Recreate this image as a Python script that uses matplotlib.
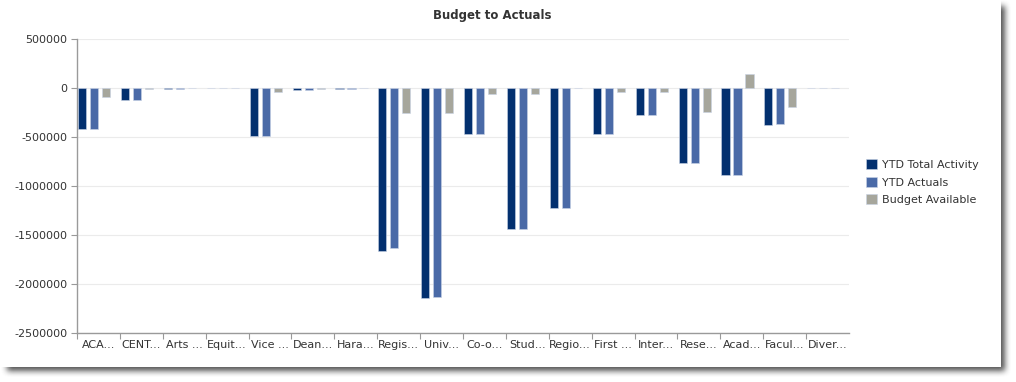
import matplotlib
matplotlib.use("Agg")
import matplotlib.pyplot as plt
from matplotlib.patches import Rectangle
import numpy as np

# category labels as shown (truncated in the original)
categories = ["ACA...", "CENT...", "Arts ...", "Equit...", "Vice ...", "Dean...",
              "Hara...", "Regis...", "Univ...", "Co-o...", "Stud...", "Regio...",
              "First ...", "Inter...", "Rese...", "Acad...", "Facul...", "Diver..."]

ytd_total = [-418000, -119000, -3000, 0, -484000, -20000, -3000, -1657000, -2143000,
             -463000, -1436000, -1218000, -463000, -276000, -765000, -888000, -371000, 2000]
ytd_actuals = [-418000, -119000, -3000, 0, -484000, -20000, -3000, -1626000, -2133000,
               -463000, -1436000, -1218000, -463000, -276000, -765000, -884000, -361000, 2000]
budget_avail = [-92000, -5000, -1000, 0, -35000, -5000, -2000, -249000, -249000,
                -55000, -61000, -2000, -35000, -41000, -245000, 143000, -194000, 2000]

series = [("YTD Total Activity", ytd_total, "#03306f"),
          ("YTD Actuals", ytd_actuals, "#4a6aa7"),
          ("Budget Available", budget_avail, "#a6a69c")]

W, H = 1016, 382
CARD_R, CARD_B = 1001, 367   # card right / bottom edge in pixels (from top-left)

fig = plt.figure(figsize=(W / 100, H / 100), dpi=100)
fig.patch.set_facecolor("white")

# soft drop shadow: offset rectangle, box-blurred
mask = np.zeros((H, W))
mask[6:CARD_B + 4, 7:CARD_R + 4] = 1.0
k = 7
ker = np.ones(k) / k
for _ in range(2):
    mask = np.apply_along_axis(lambda r: np.convolve(r, ker, mode="same"), 1, mask)
    mask = np.apply_along_axis(lambda c: np.convolve(c, ker, mode="same"), 0, mask)
shadow = np.zeros((H, W, 4))
shadow[..., :3] = 0.2
shadow[..., 3] = mask * 0.85
fig.figimage(shadow, xo=0, yo=0, origin="upper", zorder=0)

fig.patches.append(Rectangle((0, (H - CARD_B) / H), CARD_R / W, CARD_B / H,
                             transform=fig.transFigure, facecolor="white",
                             edgecolor="none", zorder=1))

ax = fig.add_axes([77 / W, (H - 333.3) / H, (849 - 77) / W, (333.3 - 39.3) / H])
ax.set_facecolor("none")
ax.set_zorder(2)

x = np.arange(len(categories))
bw = 0.19
for j, (name, vals, col) in enumerate(series):
    ax.bar(x + 0.40 + (j - 1) * 0.28, vals, width=bw, color=col, label=name,
           edgecolor="#c9d3e6", linewidth=0.4, zorder=3)

ax.set_xlim(0, len(categories))
ax.set_ylim(-2500000, 500000)
ax.set_yticks(np.arange(-2500000, 500001, 500000))
ax.set_yticklabels([str(v) for v in range(-2500000, 500001, 500000)])
ax.set_xticks(x)
ax.set_xticklabels([])
ax.set_xticks(x + 0.5, minor=True)
ax.set_xticklabels(categories, minor=True)
ax.tick_params(axis="x", which="minor", length=0, pad=5, labelsize=8, labelcolor="#333333")
ax.tick_params(axis="x", which="major", length=4, color="#999999")
ax.tick_params(axis="y", length=4, color="#999999", labelsize=8, labelcolor="#333333", pad=3)
ax.grid(axis="y", color="#ebebeb", linewidth=0.8, zorder=0)
ax.set_axisbelow(True)
for s in ["top", "right"]:
    ax.spines[s].set_visible(False)
for s in ["left", "bottom"]:
    ax.spines[s].set_color("#9a9a9a")
    ax.spines[s].set_linewidth(1.0)

fig.text(492 / W, 1 - 16 / H, "Budget to Actuals", ha="center", va="center",
         fontsize=8.5, fontweight="bold", color="#333333", zorder=5)

leg = ax.legend(loc="upper left", bbox_to_anchor=(862 / W, 1 - 155 / H),
                bbox_transform=fig.transFigure, frameon=False, fontsize=8,
                handlelength=0.95, handleheight=0.95, handletextpad=0.45,
                labelspacing=0.62, borderaxespad=0)
for t in leg.get_texts():
    t.set_color("#333333")

fig.savefig("out.png", dpi=100, facecolor="white")
